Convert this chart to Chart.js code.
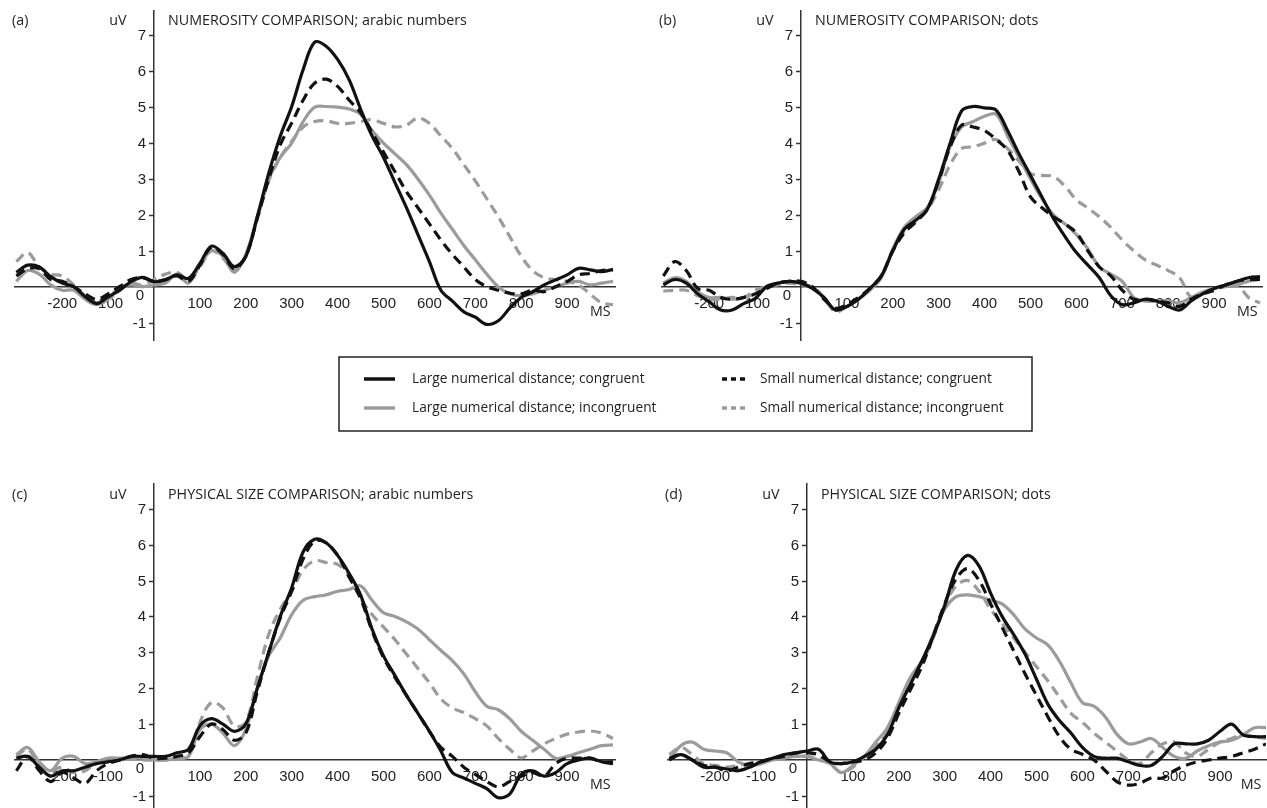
<!DOCTYPE html>
<html>
<head>
<meta charset="utf-8">
<script src="https://cdn.jsdelivr.net/npm/chart.js@4.4.1/dist/chart.umd.min.js"></script>
<style>
html,body{margin:0;padding:0;background:#fff;width:1267px;height:808px;overflow:hidden;}
canvas{position:absolute;left:0;top:0;}
</style>
</head>
<body>
<canvas id="pa" width="1267" height="830"></canvas>
<canvas id="pb" width="1267" height="830"></canvas>
<canvas id="pc" width="1267" height="830"></canvas>
<canvas id="pd" width="1267" height="830"></canvas>
<script>
// ---------- DATA ----------
const T = [-300,-275,-250,-225,-200,-175,-150,-125,-100,-75,-50,-25,0,25,50,75,100,125,150,175,200,225,250,275,300,325,350,375,400,425,450,475,500,525,550,575,600,625,650,675,700,725,750,775,800,825,850,875,900,925,950,975,1000];

const PANEL_LABELS = ['(a)','(b)','(c)','(d)'];
const PANEL_TITLES = ['NUMEROSITY COMPARISON; arabic numbers','NUMEROSITY COMPARISON; dots','PHYSICAL SIZE COMPARISON; arabic numbers','PHYSICAL SIZE COMPARISON; dots'];
const SERIES_NAMES = ['Large numerical distance; congruent','Large numerical distance; incongruent','Small numerical distance; congruent','Small numerical distance; incongruent'];
const X_TICKS = [-200,-100,100,200,300,400,500,600,700,800,900];
const Y_TICKS = [-1,1,2,3,4,5,6,7];
const Y_UNIT = 'uV';
const X_UNIT = 'MS';
const ORIGIN_LABEL = '0';

// (a) numerosity, arabic numbers
const a_lc = [0.4,0.6,0.55,0.28,0.1,0.0,-0.28,-0.47,-0.28,-0.1,0.14,0.26,0.14,0.19,0.33,0.23,0.65,1.13,0.93,0.56,0.84,1.95,3.16,4.19,5.02,6.05,6.81,6.7,6.33,5.77,4.95,4.2,3.6,2.9,2.2,1.45,0.7,-0.1,-0.4,-0.7,-0.85,-1.05,-0.95,-0.6,-0.3,-0.14,0.05,0.19,0.33,0.51,0.47,0.42,0.48];
const a_li = [0.15,0.45,0.35,0.05,-0.1,-0.1,-0.35,-0.5,-0.35,0.0,0.05,0.0,0.05,0.1,0.35,0.1,0.6,1.0,0.85,0.4,0.9,1.95,3.0,3.6,4.0,4.6,5.0,5.02,5.0,4.95,4.8,4.35,4.0,3.7,3.4,3.0,2.55,2.05,1.6,1.15,0.75,0.35,0.0,-0.2,-0.25,-0.2,-0.1,0.0,0.1,0.15,0.05,0.1,0.15];
const a_sc = [0.3,0.5,0.5,0.2,0.15,0.0,-0.2,-0.35,-0.2,0.0,0.2,0.25,0.15,0.2,0.3,0.15,0.6,1.1,0.9,0.5,0.85,1.9,3.0,3.95,4.56,5.2,5.67,5.78,5.58,5.2,4.85,4.3,3.75,3.2,2.65,2.2,1.75,1.3,0.9,0.55,0.2,0.0,-0.1,-0.18,-0.2,-0.1,-0.14,0.0,0.14,0.33,0.37,0.45,0.47];
const a_si = [0.7,0.95,0.55,0.35,0.3,0.05,-0.25,-0.45,-0.35,-0.1,0.1,0.05,0.2,0.35,0.4,0.2,0.55,1.0,0.8,0.45,0.85,1.9,2.95,3.6,4.05,4.45,4.6,4.62,4.55,4.55,4.6,4.65,4.55,4.45,4.5,4.7,4.55,4.2,3.85,3.4,2.95,2.45,1.95,1.4,0.85,0.45,0.25,0.2,0.15,0.05,-0.2,-0.45,-0.5];

// (b) numerosity, dots
const b_lc = [0.05,0.2,0.1,-0.2,-0.42,-0.65,-0.65,-0.47,-0.33,0.0,0.1,0.15,0.1,-0.05,-0.3,-0.65,-0.55,-0.35,-0.05,0.3,1.0,1.6,1.85,2.15,3.0,4.0,4.9,5.02,4.98,4.92,4.35,3.7,3.1,2.5,1.9,1.4,0.95,0.6,0.25,-0.25,-0.5,-0.45,-0.35,-0.4,-0.55,-0.65,-0.4,-0.2,-0.05,0.05,0.15,0.25,0.28];
const b_li = [0.1,0.25,0.15,-0.15,-0.3,-0.3,-0.35,-0.3,-0.2,0.0,0.1,0.15,0.1,-0.05,-0.3,-0.65,-0.55,-0.35,-0.1,0.25,1.05,1.65,1.95,2.2,2.9,3.9,4.45,4.6,4.75,4.8,4.2,3.6,3.0,2.45,2.0,1.75,1.45,1.05,0.55,0.35,0.15,-0.3,-0.4,-0.4,-0.4,-0.45,-0.3,-0.15,-0.05,0.0,0.05,0.15,0.2];
const b_sc = [0.3,0.7,0.45,-0.05,-0.1,-0.3,-0.35,-0.3,-0.2,-0.05,0.1,0.15,0.15,0.0,-0.35,-0.6,-0.5,-0.3,-0.05,0.3,1.0,1.5,1.8,2.15,2.95,3.9,4.5,4.45,4.35,4.1,3.8,3.2,2.5,2.2,1.95,1.75,1.5,1.0,0.55,0.3,-0.1,-0.35,-0.35,-0.4,-0.45,-0.55,-0.35,-0.2,-0.1,0.05,0.15,0.2,0.2];
const b_si = [-0.12,-0.1,-0.1,-0.25,-0.35,-0.35,-0.3,-0.3,-0.1,0.0,0.05,0.1,0.05,0.0,-0.3,-0.7,-0.55,-0.35,-0.05,0.3,1.0,1.55,1.85,2.15,2.7,3.4,3.85,3.9,4.0,4.1,3.85,3.5,3.15,3.1,3.07,2.8,2.42,2.19,1.95,1.65,1.3,1.0,0.75,0.6,0.45,0.25,-0.3,-0.2,-0.05,0.0,0.05,-0.3,-0.45];

// (c) physical size, arabic numbers
const c_lc = [0.05,0.1,-0.2,-0.45,-0.3,-0.3,-0.2,-0.1,-0.05,0.0,0.1,0.1,0.1,0.1,0.2,0.3,0.95,1.15,1.0,0.8,1.0,2.0,3.0,4.0,4.8,5.8,6.15,6.05,5.7,5.2,4.6,3.65,2.9,2.35,1.8,1.3,0.8,0.25,-0.35,-0.5,-0.65,-0.8,-1.05,-0.95,-0.4,-0.3,-0.45,-0.35,-0.1,0.0,0.05,-0.05,-0.1];
const c_li = [0.15,0.35,-0.05,-0.3,0.05,0.1,-0.1,-0.05,0.05,0.05,0.05,0.05,0.0,0.0,0.05,0.1,0.85,1.0,0.75,0.4,0.85,2.0,2.9,3.4,4.05,4.45,4.55,4.6,4.7,4.75,4.85,4.45,4.1,4.0,3.85,3.65,3.35,3.05,2.77,2.4,1.9,1.5,1.4,1.15,0.8,0.55,0.3,0.05,0.1,0.2,0.3,0.4,0.42];
const c_sc = [-0.3,0.1,-0.3,-0.6,-0.35,-0.5,-0.65,-0.3,-0.1,0.0,0.1,0.15,0.05,0.05,0.1,0.2,0.65,1.0,0.85,0.55,0.75,1.9,3.0,3.95,4.7,5.6,6.1,6.05,5.7,5.1,4.5,3.6,2.85,2.3,1.8,1.3,0.8,0.35,0.1,-0.2,-0.4,-0.6,-0.75,-0.6,-0.45,-0.35,-0.45,-0.1,0.05,0.05,0.05,-0.05,-0.05];
const c_si = [0.1,0.3,-0.15,-0.3,-0.2,-0.35,-0.3,-0.05,0.0,0.0,0.05,0.0,0.0,0.0,0.05,0.1,1.05,1.6,1.45,0.95,1.05,2.3,3.5,4.2,4.7,5.3,5.55,5.5,5.45,5.15,4.5,4.05,3.7,3.35,2.95,2.55,2.15,1.7,1.45,1.32,1.15,0.95,0.6,0.3,0.06,0.25,0.45,0.6,0.72,0.78,0.81,0.75,0.6];

// (d) physical size, dots
const d_lc = [0.05,0.15,0.0,-0.2,-0.2,-0.25,-0.3,-0.2,-0.05,0.05,0.15,0.2,0.25,0.3,-0.05,-0.1,-0.05,0.1,0.3,0.7,1.45,2.1,2.75,3.45,4.3,5.3,5.7,5.4,4.65,4.0,3.5,2.95,2.25,1.55,1.1,0.75,0.35,0.1,0.05,0.05,-0.05,-0.15,-0.15,0.1,0.45,0.45,0.45,0.55,0.8,1.0,0.7,0.65,0.65];
const d_li = [0.0,0.4,0.5,0.3,0.25,0.2,-0.05,-0.15,-0.1,0.0,0.05,0.1,0.1,0.0,-0.1,-0.35,-0.15,0.1,0.5,0.9,1.6,2.3,2.75,3.5,4.2,4.55,4.6,4.55,4.45,4.35,4.05,3.65,3.4,3.2,2.75,2.15,1.6,1.5,1.2,0.72,0.45,0.5,0.6,0.35,0.1,0.05,0.25,0.4,0.5,0.55,0.7,0.9,0.9];
const d_sc = [0.0,0.15,0.0,-0.15,-0.2,-0.3,-0.2,-0.1,-0.05,0.05,0.1,0.2,0.2,0.15,-0.05,-0.1,-0.05,0.0,0.2,0.6,1.3,1.95,2.6,3.45,4.35,5.05,5.33,5.0,4.35,3.7,3.05,2.4,1.8,1.2,0.65,0.3,0.16,0.0,-0.3,-0.6,-0.7,-0.65,-0.5,-0.5,-0.3,-0.15,-0.05,0.0,0.05,0.1,0.2,0.3,0.45];
const d_si = [0.15,0.35,0.15,-0.1,-0.15,-0.2,-0.15,-0.1,-0.05,0.0,0.1,0.15,0.1,0.05,-0.1,-0.35,-0.2,0.1,0.4,0.75,1.5,2.25,2.7,3.4,4.3,4.85,5.0,4.7,4.2,3.8,3.4,3.0,2.6,2.2,1.75,1.3,1.05,0.75,0.5,0.25,0.0,-0.1,0.2,0.45,0.5,0.2,0.1,0.3,0.5,0.6,0.7,0.65,0.6];

// ---------- STYLE / LAYOUT ----------
const W = 1267, H = 830;
const PX_MS = 0.459, PX_U = 35.9;
const Y_MIN = -1.5, Y_MAX = 7.7;
const STYLES = [
  {color:'#111111', dash:[]},
  {color:'#9b9b9b', dash:[]},
  {color:'#111111', dash:[10,6]},
  {color:'#9b9b9b', dash:[10,6]}
];
const TEXT_FONT = '"Open Sans", "DejaVu Sans", sans-serif';
const TICK_FONT = '"Liberation Sans", Arial, sans-serif';

const decor = {
  id: 'panelDecor',
  afterDraw(chart, args, opts) {
    const ctx = chart.ctx;
    const ca = chart.chartArea;
    const ys = chart.scales.y;
    const ox = chart.scales.x.getPixelForValue(0);
    const oy = ys.getPixelForValue(0);
    const idx = opts.idx;
    ctx.save();
    // y-axis tick marks and labels (left of the axis)
    ctx.strokeStyle = '#333';
    ctx.lineWidth = 1.5;
    ctx.fillStyle = '#222';
    ctx.font = '15px ' + TICK_FONT;
    ctx.textAlign = 'right';
    ctx.textBaseline = 'middle';
    Y_TICKS.forEach(v => {
      const py = Math.round(ys.getPixelForValue(v)) + 0.5;
      ctx.beginPath();
      ctx.moveTo(ox - 5, py);
      ctx.lineTo(ox, py);
      ctx.stroke();
      ctx.fillText(String(v), ox - 8, py);
    });
    ctx.textAlign = 'center';
    ctx.fillText(ORIGIN_LABEL, ox - 14, oy + 9);

    ctx.font = '14.3px ' + TEXT_FONT;
    ctx.textAlign = 'left';
    ctx.fillText(PANEL_LABELS[idx], ox - 142, ca.top + 11);
    ctx.fillText(PANEL_TITLES[idx], ox + 14, ca.top + 11);
    ctx.textAlign = 'center';
    ctx.fillText(Y_UNIT, ox - 36, ca.top + 11);
    ctx.fillText(X_UNIT, ca.right - 15, oy + 25);
    ctx.restore();

    if (opts.legend) {
      const bx = 339, by = 357, bw = 693, bh = 74;
      ctx.save();
      ctx.strokeStyle = '#222';
      ctx.lineWidth = 1.5;
      ctx.strokeRect(bx, by, bw, bh);
      const rows = [by + 22, by + 51];
      const items = [
        {k:0, x0:364, x1:395, tx:412, y:rows[0]},
        {k:1, x0:364, x1:395, tx:412, y:rows[1]},
        {k:2, x0:722, x1:745, tx:760, y:rows[0]},
        {k:3, x0:722, x1:745, tx:760, y:rows[1]}
      ];
      items.forEach(it => {
        ctx.beginPath();
        ctx.strokeStyle = STYLES[it.k].color;
        ctx.lineWidth = 3.5;
        ctx.setLineDash(STYLES[it.k].dash.length ? [5,4] : []);
        ctx.moveTo(it.x0, it.y);
        ctx.lineTo(it.x1, it.y);
        ctx.stroke();
        ctx.setLineDash([]);
        ctx.fillStyle = '#222';
        ctx.font = '13.7px ' + TEXT_FONT;
        ctx.textAlign = 'left';
        ctx.textBaseline = 'middle';
        ctx.fillText(SERIES_NAMES[it.k], it.tx, it.y);
      });
      ctx.restore();
    }
  }
};

function makePanel(id, idx, geo, series, legend) {
  const left = geo.ox + geo.xmin * PX_MS;
  const right = geo.ox + geo.xmax * PX_MS;
  const top = geo.oy - Y_MAX * PX_U;
  const bottom = geo.oy - Y_MIN * PX_U;
  const order = [0, 2, 1, 3];
  new Chart(document.getElementById(id), {
    type: 'line',
    data: {
      datasets: order.map(k => ({
        label: SERIES_NAMES[k],
        data: T.map((t, i) => ({x: t, y: series[k][i]})),
        borderColor: STYLES[k].color,
        borderDash: STYLES[k].dash,
        borderWidth: 3.2,
        pointRadius: 0,
        tension: 0.35,
        fill: false
      }))
    },
    options: {
      responsive: false,
      animation: false,
      devicePixelRatio: 1,
      layout: {padding: {left: left, top: top, right: W - right, bottom: H - bottom}},
      plugins: {legend: {display: false}, tooltip: {enabled: false}, panelDecor: {idx: idx, legend: legend}},
      scales: {
        x: {
          type: 'linear', min: geo.xmin, max: geo.xmax,
          position: {y: 0},
          afterBuildTicks: s => { s.ticks = X_TICKS.map(v => ({value: v})); },
          grid: {display: false, drawTicks: false},
          border: {display: true, color: '#333', width: 1.5},
          ticks: {padding: 8, color: '#222', font: {family: TICK_FONT, size: 15}, maxRotation: 0, autoSkip: false}
        },
        y: {
          type: 'linear', min: Y_MIN, max: Y_MAX,
          position: {x: 0},
          afterBuildTicks: s => { s.ticks = Y_TICKS.map(v => ({value: v})); },
          grid: {display: false, drawTicks: false},
          border: {display: true, color: '#333', width: 1.5},
          ticks: {display: false}
        }
      }
    },
    plugins: [decor]
  });
}

makePanel('pa', 0, {ox: 154, oy: 286.7, xmin: -303, xmax: 1005}, [a_lc, a_li, a_sc, a_si], true);
makePanel('pb', 1, {ox: 801, oy: 286.7, xmin: -303, xmax: 1005}, [b_lc, b_li, b_sc, b_si], false);
makePanel('pc', 2, {ox: 154, oy: 760, xmin: -303, xmax: 1005}, [c_lc, c_li, c_sc, c_si], false);
makePanel('pd', 3, {ox: 807, oy: 760, xmin: -303, xmax: 1000}, [d_lc, d_li, d_sc, d_si], false);
</script>
</body>
</html>
